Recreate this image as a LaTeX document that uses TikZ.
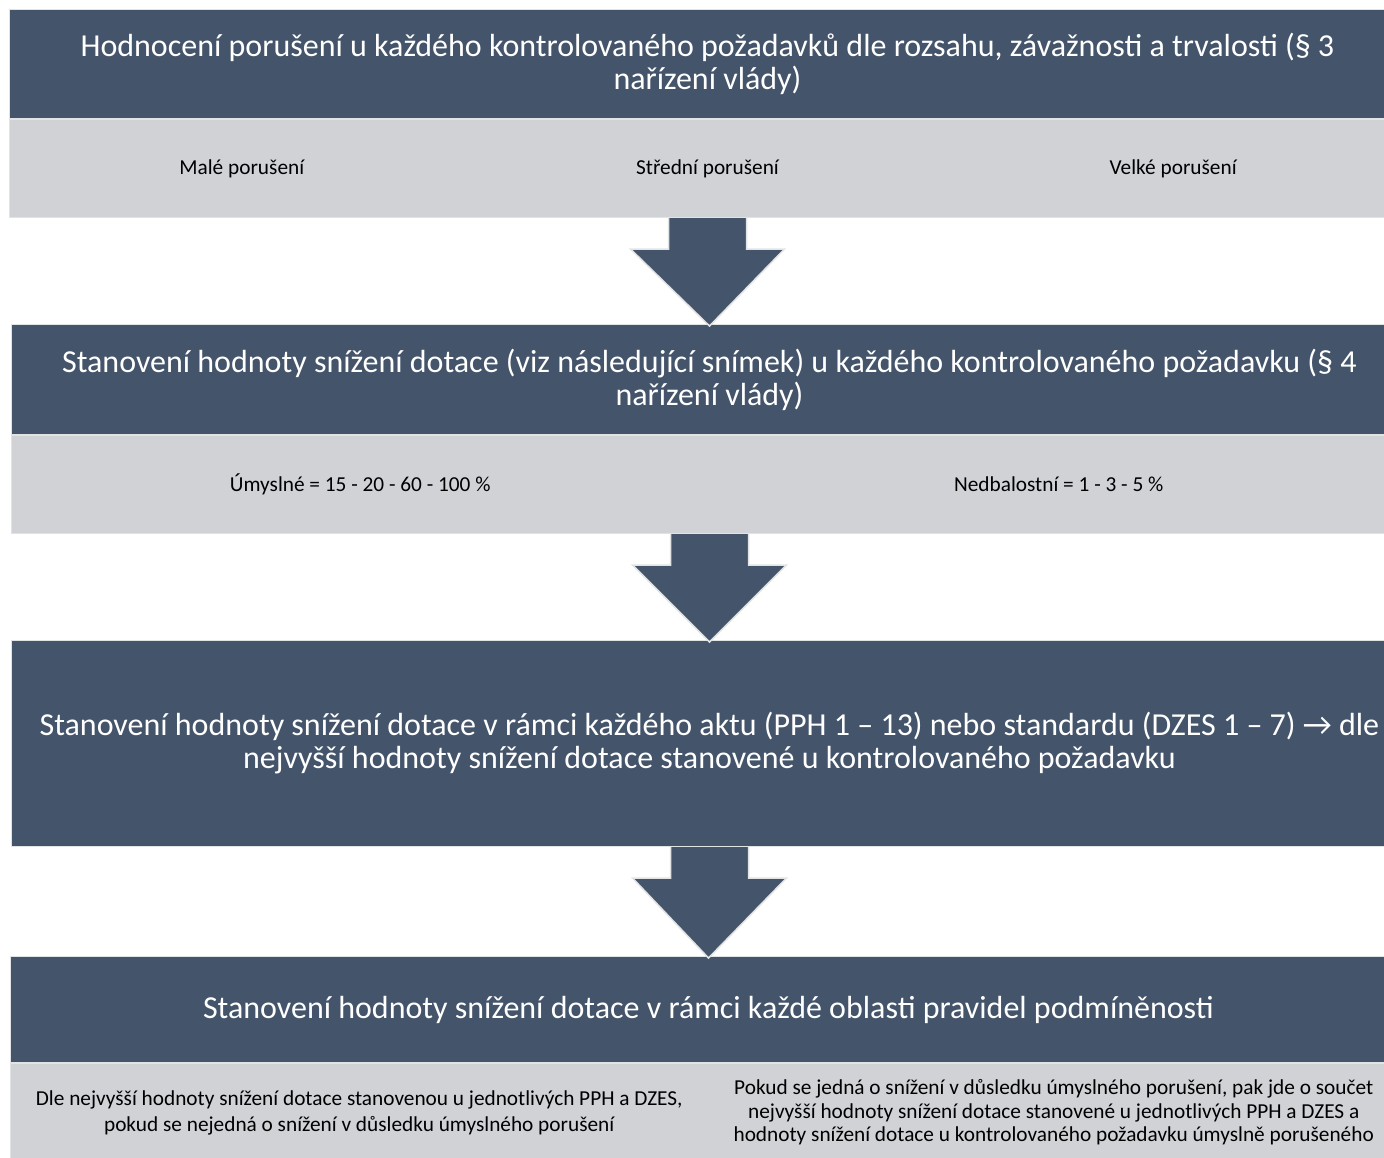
\documentclass[tikz,border=0pt]{standalone}
\usepackage{fontspec}
\setmainfont{Carlito}
\usetikzlibrary{positioning,calc}

\definecolor{slate}{HTML}{44546A}
\definecolor{mist}{HTML}{D0D2D6}
\definecolor{rim}{HTML}{E2E3E5}

% block arrow from the bottom of one band to the top of the next box
\newcommand{\blockarrow}[2]{%
  \filldraw[slate, draw=rim, line width=1.5pt]
    ($(#1.south)+(39,0)$) -- ($(#1.south)+(39,31)$) -- ($(#1.south)+(77,31)$)
    -- ($(#2.north)+(0,2)$) -- ($(#1.south)+(-77,31)$) -- ($(#1.south)+(-39,31)$)
    -- ($(#1.south)+(-39,0)$);}

\begin{document}
\begin{tikzpicture}[x=1pt,y=-1pt]
\tikzstyle{every node}+=[inner sep=0pt]
\tikzstyle{darkbox}=[fill=slate, draw=rim, line width=1pt, anchor=north west,
  minimum width=1396pt, text=white, align=center,
  font=\fontsize{32}{33}\selectfont]
\tikzstyle{greyband}=[fill=mist, draw=rim, line width=1pt,
  minimum width=1396pt, minimum height=98pt]
\tikzstyle{smalltext}=[text=black, align=center, font=\fontsize{21.3}{26}\selectfont]
\useasboundingbox (0,0) rectangle (1384,1157);
\clip (0,0) rectangle (1384,1157);

% step 1
\node[darkbox, minimum height=109pt] (h1) at (9,9)
  {Hodnocení porušení u každého kontrolovaného požadavků dle rozsahu, závažnosti a trvalosti (§ 3\\nařízení vlády)};
\node[greyband, below=0pt of h1] (g1) {};
\node[smalltext] (malé) at ($(g1.west)!1/6!(g1.east)$) {Malé porušení};
\node[smalltext] (střední) at ($(g1.west)!1/2!(g1.east)$) {Střední porušení};
\node[smalltext] (velké) at ($(g1.west)!5/6!(g1.east)$) {Velké porušení};

% step 2
\node[darkbox, minimum height=110pt] (h2) at (11,324)
  {Stanovení hodnoty snížení dotace (viz následující snímek) u každého kontrolovaného požadavku (§ 4\\nařízení vlády)};
\node[greyband, below=0pt of h2] (g2) {};
\node[smalltext] (úmysl) at ($(g2.west)!1/4!(g2.east)$) {Úmyslné = 15 - 20 - 60 - 100 \%};
\node[smalltext] (nedbal) at ($(g2.west)!3/4!(g2.east)$) {Nedbalostní = 1 - 3 - 5 \%};

% step 3
\node[darkbox, minimum height=206pt] (h3) at (11,640)
  {Stanovení hodnoty snížení dotace v rámci každého aktu (PPH 1 – 13) nebo standardu (DZES 1 – 7) → dle\\nejvyšší hodnoty snížení dotace stanovené u kontrolovaného požadavku};

% step 4
\node[darkbox, minimum height=106pt] (h4) at (10,956)
  {Stanovení hodnoty snížení dotace v rámci každé oblasti pravidel podmíněnosti};
\node[greyband, below=0pt of h4] (g4) {};
\node[smalltext] (nejvyšší) at ($(g4.west)!1/4!(g4.east)$)
  {Dle nejvyšší hodnoty snížení dotace stanovenou u jednotlivých PPH a DZES,\\pokud se nejedná o snížení v důsledku úmyslného porušení};
\node[smalltext, font=\fontsize{21.3}{23.5}\selectfont] (součet) at ($(g4.west)!3/4!(g4.east)+(-4,0)$)
  {Pokud se jedná o snížení v důsledku úmyslného porušení, pak jde o součet\\nejvyšší hodnoty snížení dotace stanovené u jednotlivých PPH a DZES a\\hodnoty snížení dotace u kontrolovaného požadavku úmyslně porušeného};

% arrows
\blockarrow{g1}{h2}
\blockarrow{g2}{h3}
\blockarrow{h3}{h4}
\end{tikzpicture}
\end{document}
